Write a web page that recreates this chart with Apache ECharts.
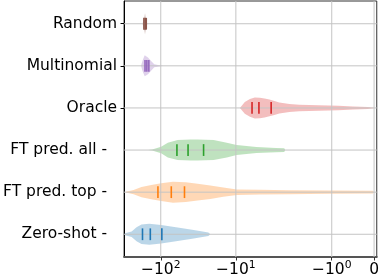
<!DOCTYPE html>
<html><head><meta charset="utf-8">
<script src="https://cdn.jsdelivr.net/npm/echarts@6/dist/echarts.min.js"></script>
<style>html,body{margin:0;padding:0;background:#fff}#c{width:382px;height:278px}</style>
</head><body><div id="c"></div>
<script>
// ---- data ----
const categoryLabels = ['Random', 'Multinomial', 'Oracle', 'FT pred. all -', 'FT pred. top -', 'Zero-shot -'];
const colors = ['#8c564b', '#9467bd', '#d62728', '#2ca02c', '#ff7f0e', '#1f77b4'];

// violin outlines: [value, half width in category units]
const randomProfile = [[-175, 0], [-168.5, 0.1], [-162, 0.25], [-156, 0.1], [-150.7, 0]];
const multinomialProfile = [[-183, 0], [-175, 0.12], [-163.6, 0.25], [-148, 0.2], [-133.6, 0.11], [-122, 0.035], [-105, 0.015], [-93, 0]];
const oracleProfile = [[-8.83, 0], [-7.6, 0.14], [-6.5, 0.21], [-5.6, 0.248], [-4.8, 0.243], [-4.15, 0.225], [-3.57, 0.2], [-3.07, 0.165], [-2.64, 0.13], [-2.0, 0.095], [-1.77, 0.078], [-1.31, 0.066], [-0.84, 0.054], [-0.5, 0.035], [-0.15, 0.024], [-0.01, 0.007], [0, 0]];
const ftAllProfile = [[-147.5, 0], [-130, 0.012], [-98.8, 0.078], [-80.6, 0.175], [-59.6, 0.236], [-40, 0.25], [-32.6, 0.25], [-19.8, 0.236], [-13.2, 0.175], [-9.76, 0.118], [-5.33, 0.071], [-2.92, 0.05], [-2.27, 0.045], [-2.2, 0]];
const ftTopProfile = [[-292.8, 0], [-292, 0.01], [-229.9, 0.05], [-180.5, 0.12], [-133.6, 0.17], [-98.8, 0.21], [-68.8, 0.25], [-46.4, 0.235], [-32.3, 0.2], [-21.9, 0.16], [-14.7, 0.11], [-9.68, 0.065], [-4.83, 0.055], [-2.01, 0.047], [-1.077, 0.04], [-0.03, 0.033], [0, 0]];
const zeroShotProfile = [[-305, 0], [-299, 0.024], [-244, 0.064], [-210, 0.165], [-180.5, 0.23], [-141.8, 0.25], [-98.8, 0.22], [-59.6, 0.158], [-36.4, 0.1], [-23.2, 0.04], [-21.9, 0]];

// quartile markers
const randomQuartiles = [-167.5, -161, -156];
const multinomialQuartiles = [-162, -153, -144];
const oracleQuartiles = [-6.09, -4.93, -3.39];
const ftAllQuartiles = [-60.9, -43.3, -26.9];
const ftTopQuartiles = [-109, -72.4, -48.3];
const zeroShotQuartiles = [-175, -137.7, -96.7];

const tickValues = [-100, -10, -1, 0];
const tickBases = ['\u221210', '\u221210', '\u221210', '0'];
const tickExponents = ['2', '1', '0', ''];

// ---- symlog transform ----
const LIN_THRESH = 2.04, LIN_SCALE = 1.15;
function T(x) {
  const a = Math.abs(x);
  if (a <= LIN_THRESH) return x * LIN_SCALE;
  return Math.sign(x) * LIN_THRESH * (LIN_SCALE + Math.log10(a / LIN_THRESH));
}

const profiles = [randomProfile, multinomialProfile, oracleProfile, ftAllProfile, ftTopProfile, zeroShotProfile];
const quartiles = [randomQuartiles, multinomialQuartiles, oracleQuartiles, ftAllQuartiles, ftTopQuartiles, zeroShotQuartiles];
const tickT = tickValues.map(T);
const FONT = 'DejaVu Sans';
const QHALF = 0.14;

const chart = echarts.init(document.getElementById('c'), null, {renderer: 'canvas'});
chart.setOption({
  animation: false,
  grid: {left: 122, right: 3, top: 1, height: 257, show: true, borderColor: '#333', borderWidth: 1, backgroundColor: 'transparent'},
  xAxis: {
    type: 'value', min: T(-308), max: T(0.063),
    splitLine: {show: false},
    axisLine: {show: true, onZero: false, lineStyle: {color: '#555', width: 2}},
    axisTick: {show: true, customValues: tickT, length: 3.5, lineStyle: {color: '#333'}},
    axisLabel: {
      customValues: tickT, margin: 3, fontFamily: FONT, fontSize: 15.5, color: '#000',
      formatter: v => {
        const i = tickT.findIndex(t => Math.abs(t - v) < 1e-6);
        if (i < 0) return '';
        return '{b|' + tickBases[i] + '}' + (tickExponents[i] ? '{s|' + tickExponents[i] + '}' : '');
      },
      rich: {
        b: {fontFamily: FONT, fontSize: 15.5, color: '#000', lineHeight: 18, verticalAlign: 'bottom'},
        s: {fontFamily: FONT, fontSize: 10.8, color: '#000', lineHeight: 11, verticalAlign: 'top'}
      }
    }
  },
  yAxis: {
    type: 'value', inverse: true, min: -0.54, max: 5.54,
    splitLine: {show: false},
    axisLine: {show: true, onZero: false, lineStyle: {color: '#000', width: 1}},
    axisTick: {show: true, customValues: [0, 1, 2], length: 3.5, lineStyle: {color: '#000'}},
    axisLabel: {
      customValues: [0, 1, 2, 3, 4, 5], margin: 7,
      fontFamily: FONT, fontSize: 15.5, color: '#000',
      formatter: v => { const i = Math.round(v); return (i >= 3 ? '{d|' : '{n|') + categoryLabels[i] + '}'; },
      rich: {
        n: {fontFamily: FONT, fontSize: 15.5, color: '#000'},
        d: {fontFamily: FONT, fontSize: 15.5, color: '#000', padding: [0, 10, 0, 0]}
      }
    }
  },
  series: [
    {
      type: 'custom', z: 2, silent: true,
      data: categoryLabels.map((_, i) => [0, i]),
      renderItem: (params, api) => {
        const i = api.value(1);
        const prof = profiles[i];
        const top = prof.map(p => api.coord([T(p[0]), i - p[1]]));
        const bot = prof.slice().reverse().map(p => api.coord([T(p[0]), i + p[1]]));
        return {type: 'polygon', shape: {points: top.concat(bot)},
          style: {fill: colors[i], opacity: 0.3, stroke: null}};
      }
    },
    {
      type: 'custom', z: 3, silent: true,
      data: [[0, 0]],
      renderItem: (params, api) => {
        const children = [];
        tickT.forEach(t => {
          const a = api.coord([t, -0.54]), b = api.coord([t, 5.54]);
          children.push({type: 'line', shape: {x1: a[0], y1: a[1], x2: b[0], y2: b[1]}, style: {stroke: '#c4c4c4', lineWidth: 1}});
        });
        categoryLabels.forEach((_, i) => {
          const a = api.coord([T(-308), i]), b = api.coord([T(0.063), i]);
          children.push({type: 'line', shape: {x1: a[0], y1: a[1], x2: b[0], y2: b[1]}, style: {stroke: '#c4c4c4', lineWidth: 1}});
        });
        return {type: 'group', children};
      }
    },
    {
      type: 'custom', z: 4, silent: true,
      data: categoryLabels.map((_, i) => [0, i]),
      renderItem: (params, api) => {
        const i = api.value(1);
        return {type: 'group', children: quartiles[i].map(q => {
          const a = api.coord([T(q), i - QHALF]), b = api.coord([T(q), i + QHALF]);
          return {type: 'line', shape: {x1: a[0], y1: a[1], x2: b[0], y2: b[1]}, style: {stroke: colors[i], lineWidth: 1.6}};
        })};
      }
    }
  ]
});
</script></body></html>
